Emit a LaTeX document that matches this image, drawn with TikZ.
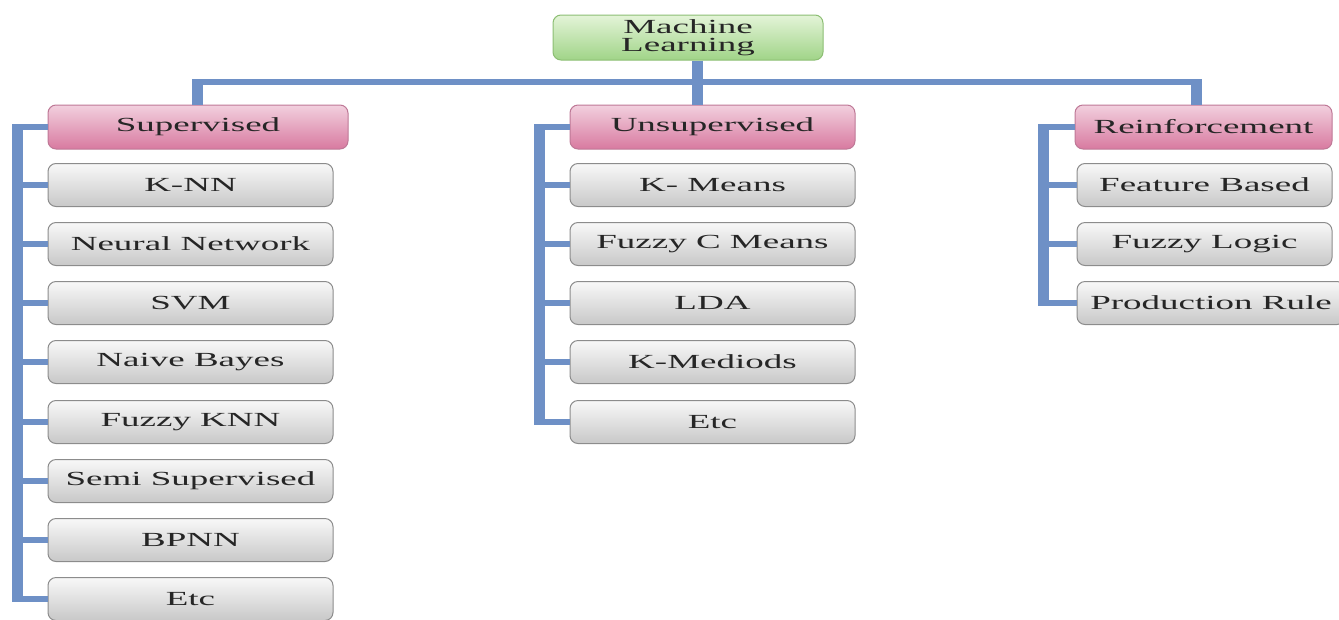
\documentclass[tikz,border=0pt]{standalone}
\usepackage{fontspec}
\setmainfont{Liberation Serif}[FakeStretch=1.85]
\definecolor{linkblue}{RGB}{110,144,198}
\definecolor{greentop}{RGB}{228,244,216}
\definecolor{greenbot}{RGB}{160,212,136}
\definecolor{greenline}{RGB}{140,190,115}
\definecolor{pinktop}{RGB}{242,208,222}
\definecolor{pinkbot}{RGB}{216,122,160}
\definecolor{pinkline}{RGB}{190,120,150}
\definecolor{graytop}{RGB}{248,248,248}
\definecolor{graybot}{RGB}{200,200,200}
\definecolor{grayline}{RGB}{140,140,140}
\begin{document}
\begin{tikzpicture}[x=1pt, y=-1pt,
		box/.style={rounded corners=8pt, line width=1pt, inner sep=0pt,
			font=\fontsize{20}{18}\selectfont, text=black!85, align=center},
		rootbox/.style={box, draw=greenline, top color=greentop, bottom color=greenbot,
			minimum width=270pt, minimum height=45pt},
		groupbox/.style={box, draw=pinkline, top color=pinktop, bottom color=pinkbot,
			minimum height=44pt},
		leafbox/.style={box, draw=grayline, top color=graytop, bottom color=graybot,
			minimum height=43pt},
		spine/.style={draw=linkblue, line width=11pt},
		branch/.style={draw=linkblue, line width=6pt}]

		\useasboundingbox (0,0) rectangle (1339,619);

		% Nodes
		\node[rootbox] (ml) at (688,37.5) {Machine\\Learning};

		\node[groupbox, minimum width=300pt] (sup) at (198,127) {Supervised};
		\node[groupbox, minimum width=285pt] (uns) at (712.5,127) {Unsupervised};
		\node[groupbox, minimum width=257pt] (rei) at (1203.5,127) {Reinforcement};

		\node[leafbox, minimum width=285pt] (knn) at (190.5,185) {K-NN};
		\node[leafbox, minimum width=285pt] (nn) at (190.5,244) {Neural Network};
		\node[leafbox, minimum width=285pt] (svm) at (190.5,303) {SVM};
		\node[leafbox, minimum width=285pt] (nb) at (190.5,362) {Naive Bayes};
		\node[leafbox, minimum width=285pt] (fknn) at (190.5,422) {Fuzzy KNN};
		\node[leafbox, minimum width=285pt] (semi) at (190.5,481) {Semi Supervised};
		\node[leafbox, minimum width=285pt] (bpnn) at (190.5,540) {BPNN};
		\node[leafbox, minimum width=285pt] (setc) at (190.5,599) {Etc};

		\node[leafbox, minimum width=285pt] (kmeans) at (712.5,185) {K- Means};
		\node[leafbox, minimum width=285pt] (fcm) at (712.5,244) {Fuzzy C Means};
		\node[leafbox, minimum width=285pt] (lda) at (712.5,303) {LDA};
		\node[leafbox, minimum width=285pt] (kmed) at (712.5,362) {K-Mediods};
		\node[leafbox, minimum width=285pt] (uetc) at (712.5,422) {Etc};

		\node[leafbox, minimum width=255pt] (feat) at (1204.5,185) {Feature Based};
		\node[leafbox, minimum width=255pt] (flog) at (1204.5,244) {Fuzzy Logic};
		\node[leafbox, minimum width=268pt] (prod) at (1211,303) {Production Rule};

		% Coordinates of the bars
		\coordinate (hub) at (697,82);
		\coordinate (supdrop) at (197,82);
		\coordinate (reidrop) at (1196,82);
		\coordinate (supbar) at (17,0);
		\coordinate (unsbar) at (539,0);
		\coordinate (reibar) at (1043,0);

		% Edges
		\draw[spine] (ml.south -| hub) -- (hub |- uns.north);
		\draw[branch] (supdrop) -- (reidrop);
		\draw[spine] ([yshift=3pt]supdrop) -- (supdrop |- sup.north);
		\draw[spine] ([yshift=3pt]reidrop) -- (reidrop |- rei.north);

		\draw[spine] ([yshift=3pt]supbar |- sup) -- ([yshift=-3pt]supbar |- setc);
		\draw[branch] (supbar |- sup) -- (sup.west);
		\draw[branch] (supbar |- knn) -- (knn.west);
		\draw[branch] (supbar |- nn) -- (nn.west);
		\draw[branch] (supbar |- svm) -- (svm.west);
		\draw[branch] (supbar |- nb) -- (nb.west);
		\draw[branch] (supbar |- fknn) -- (fknn.west);
		\draw[branch] (supbar |- semi) -- (semi.west);
		\draw[branch] (supbar |- bpnn) -- (bpnn.west);
		\draw[branch] (supbar |- setc) -- (setc.west);

		\draw[spine] ([yshift=3pt]unsbar |- uns) -- ([yshift=-3pt]unsbar |- uetc);
		\draw[branch] (unsbar |- uns) -- (uns.west);
		\draw[branch] (unsbar |- kmeans) -- (kmeans.west);
		\draw[branch] (unsbar |- fcm) -- (fcm.west);
		\draw[branch] (unsbar |- lda) -- (lda.west);
		\draw[branch] (unsbar |- kmed) -- (kmed.west);
		\draw[branch] (unsbar |- uetc) -- (uetc.west);

		\draw[spine] ([yshift=3pt]reibar |- rei) -- ([yshift=-3pt]reibar |- prod);
		\draw[branch] (reibar |- rei) -- (rei.west);
		\draw[branch] (reibar |- feat) -- (feat.west);
		\draw[branch] (reibar |- flog) -- (flog.west);
		\draw[branch] (reibar |- prod) -- (prod.west);

	\end{tikzpicture}
\end{document}
